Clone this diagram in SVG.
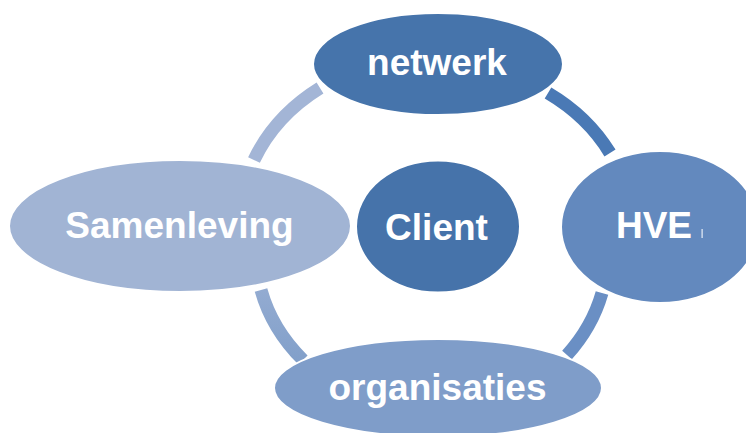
<svg xmlns="http://www.w3.org/2000/svg" width="746" height="433" viewBox="0 0 746 433">
<style>
.lbl{font-family:"Liberation Sans",Arial,sans-serif;font-weight:bold;font-size:37px;fill:#ffffff;text-anchor:middle}
.node{stroke:#ffffff;stroke-width:2}
.arc{fill:none;stroke-width:13;stroke-linecap:butt}
</style>
<defs>
<linearGradient id="gBL" x1="0" y1="1" x2="0" y2="0">
<stop offset="0" stop-color="#82A0CA"/>
<stop offset="1" stop-color="#93ABD1"/>
</linearGradient>
</defs>
<rect width="746" height="433" fill="#ffffff"/>
<g id="connectors">
<path class="arc" stroke="#A3B5D6" d="M254,160 A195,166 0 0 1 320,88"/>
<path class="arc" stroke="#4A79B5" d="M548,93 A195,166 0 0 1 610,153"/>
<path class="arc" stroke="#6A8FC4" d="M602,293 A195,166 0 0 1 567,355"/>
<path class="arc" stroke="url(#gBL)" d="M303,360 A195,166 0 0 1 261,290"/>
</g>
<g id="node-netwerk">
<ellipse class="node" cx="438" cy="64" rx="125" ry="51" fill="#4674AB"/>
<text class="lbl" x="437" y="75">netwerk</text>
</g>
<g id="node-hve">
<ellipse class="node" cx="660" cy="227" rx="99" ry="76" fill="#6389BE"/>
<text class="lbl" x="654" y="238">HVE</text>
<rect x="701.5" y="229" width="1.2" height="9" fill="#e8eef7"/>
</g>
<g id="node-organisaties">
<ellipse class="node" cx="438" cy="388" rx="164" ry="49" fill="#7F9DC9"/>
<text class="lbl" x="437.5" y="400">organisaties</text>
</g>
<g id="node-samenleving">
<ellipse class="node" cx="180" cy="226" rx="171" ry="66" fill="#A1B4D4"/>
<text class="lbl" x="179.5" y="238">Samenleving</text>
</g>
<g id="node-client">
<ellipse class="node" cx="438" cy="226.5" rx="82" ry="66" fill="#4673AA"/>
<text class="lbl" x="436.5" y="240">Client</text>
</g>
</svg>
